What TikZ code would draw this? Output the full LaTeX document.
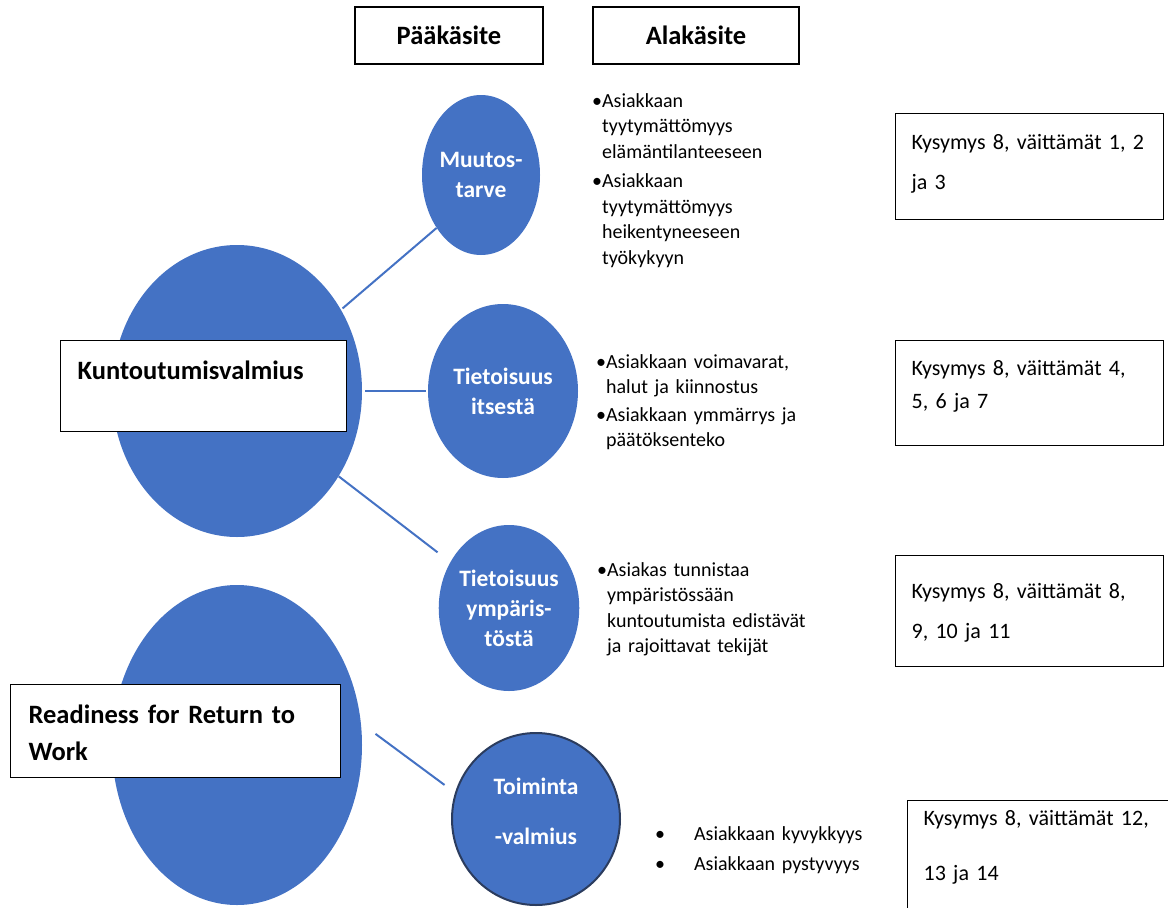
\documentclass[tikz,border=0pt]{standalone}
\usepackage{fontspec}
\setmainfont{Carlito}
\usetikzlibrary{shapes.geometric}

\definecolor{kblue}{HTML}{4472C4}
\definecolor{kdark}{HTML}{2B3C5E}
\newcommand{\ind}{\hphantom{\textbullet}}

\begin{document}
\begin{tikzpicture}[x=1pt,y=-1pt,
    bigcirc/.style={ellipse, fill=kblue, inner sep=0pt},
    smallcirc/.style={ellipse, fill=kblue, inner sep=0pt, text=white, align=center,
        font=\fontsize{23.5}{30}\selectfont\bfseries},
    link/.style={draw=kblue, line width=2pt},
    headbox/.style={draw, line width=1.2pt, inner sep=0pt,
        font=\fontsize{26.5}{32}\selectfont\bfseries},
    namebox/.style={draw, fill=white, line width=1.2pt, anchor=north west, align=left,
        inner ysep=0pt, font=\fontsize{26.5}{37}\selectfont\bfseries},
    kbox/.style={draw, line width=1.2pt, anchor=north west, align=left, text width=236pt,
        inner xsep=16pt, inner ysep=0pt, font=\fontsize{22}{40}\selectfont},
    sublist/.style={anchor=base west, align=left, inner sep=0pt, text width=240pt,
        font=\fontsize{20}{25.5}\selectfont},
]
    \useasboundingbox (0,0) rectangle (1168,908);
    \clip (0,0) rectangle (1168,908);

    \node[bigcirc, minimum width=250pt, minimum height=292pt] (kv) at (237,391) {};
    \node[bigcirc, minimum width=250pt, minimum height=320pt] (rw) at (237,745) {};

    \node[smallcirc, minimum width=118pt, minimum height=160pt] (mt) at (481,175) {Muutos-\\tarve};
    \node[smallcirc, minimum width=150pt, minimum height=174pt] (ti) at (503,391) {Tietoisuus\\itsestä};
    \node[smallcirc, minimum width=139pt, minimum height=166pt] (ty) at (509,608) {Tietoisuus\\ympäris-\\töstä};
    \node[smallcirc, draw=kdark, line width=2pt, minimum width=168pt, minimum height=172pt]
        (tv) at (536,819) {Toiminta\\[20pt]-valmius\\[-14pt]\mbox{}};

    \draw[link, shorten <=2pt] (kv.38) -- (mt.230);
    \draw[link, shorten <=3pt, shorten >=2pt] (kv.east) -- (ti.west);
    \draw[link, shorten >=16pt] (kv.-40) -- (ty.142);
    \draw[link, shorten <=18pt, shorten >=13pt] (rw.10) -- (tv.162);

    \node[headbox, minimum width=188pt, minimum height=57pt] (pk) at (449,35.5) {Pääkäsite};
    \node[headbox, minimum width=206pt, minimum height=57pt] (ak) at (696,35.5) {Alakäsite};

    \node[namebox, text width=252pt, inner xsep=17pt, text height=39pt, text depth=52pt]
        (kvname) at (60,340) {Kuntoutumisvalmius};
    \node[namebox, text width=294pt, inner xsep=18pt, text height=39pt, text depth=54pt]
        (rwname) at (10,684) {Readiness for Return to\\Work};

    \node[sublist] (l1) at (592,107) {\textbullet Asiakkaan\\\ind tyytymättömyys\\\ind elämäntilanteeseen\\[4pt]%
        \textbullet Asiakkaan\\\ind tyytymättömyys\\\ind heikentyneeseen\\\ind työkykyyn};
    \node[sublist] (l2) at (596,368) {\textbullet Asiakkaan voimavarat,\\\ind halut ja kiinnostus\\[2pt]%
        \textbullet Asiakkaan ymmärrys ja\\\ind päätöksenteko};
    \node[sublist] (l3) at (597,576) {\textbullet Asiakas tunnistaa\\\ind ympäristössään\\\ind kuntoutumista edistävät\\\ind ja rajoittavat tekijät};
    \node[sublist] (l4) at (655,840) {\textbullet\hspace{29pt}Asiakkaan kyvykkyys\\[5pt]%
        \textbullet\hspace{29pt}Asiakkaan pystyvyys};

    \node[kbox, text height=36pt, text depth=70pt] (k1) at (895,113) {Kysymys 8, väittämät 1, 2\\ja 3};
    \node[kbox, text height=35pt, text depth=70pt] (k2) at (895,340) {Kysymys 8, väittämät 4,\\[-7pt]5, 6 ja 7};
    \node[kbox, text height=43pt, text depth=68pt] (k3) at (895,555) {Kysymys 8, väittämät 8,\\9, 10 ja 11};
    \node[kbox, text height=25pt, text depth=95pt] (k4) at (907,800) {Kysymys 8, väittämät 12,\\[15pt]13 ja 14};

\end{tikzpicture}
\end{document}
